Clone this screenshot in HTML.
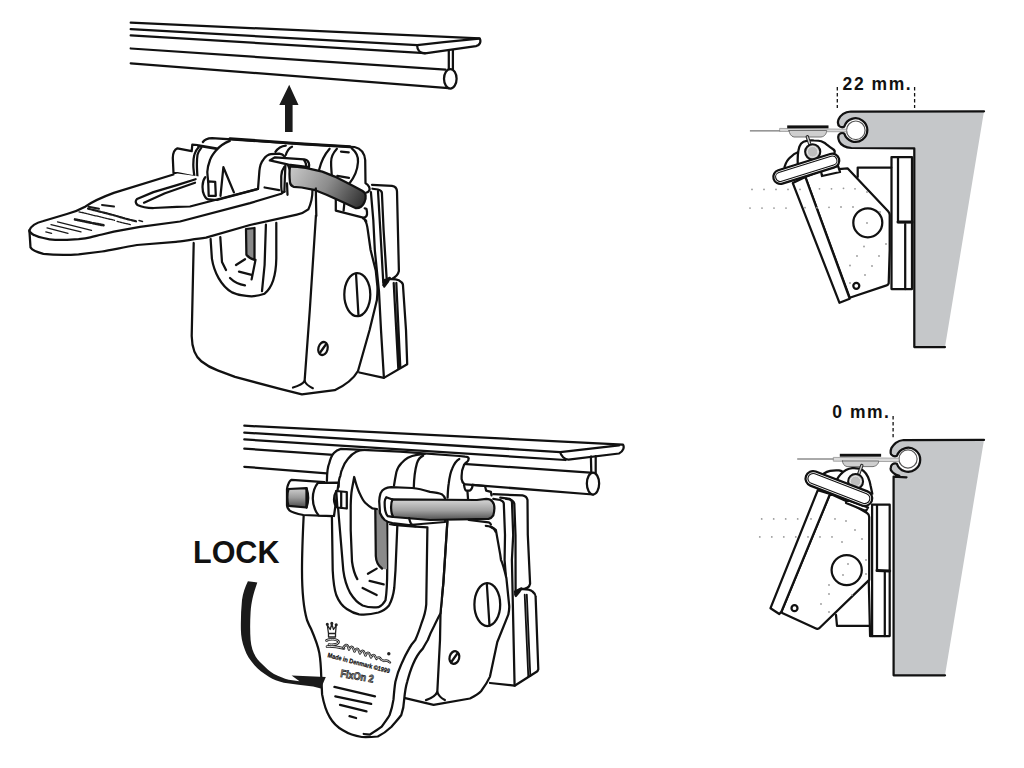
<!DOCTYPE html>
<html><head><meta charset="utf-8"><style>
html,body{margin:0;padding:0;background:#fff;width:1024px;height:768px;overflow:hidden}
svg{display:block}
</style></head><body>
<svg width="1024" height="768" viewBox="0 0 1024 768">
<defs>
<linearGradient id="rodg" gradientUnits="userSpaceOnUse" x1="292" y1="168" x2="360" y2="207">
<stop offset="0" stop-color="#c6c6c6"/><stop offset="0.5" stop-color="#8c8c8c"/><stop offset="1" stop-color="#333333"/>
</linearGradient>
<linearGradient id="grodL" x1="0" y1="0" x2="0" y2="1"><stop offset="0" stop-color="#cfcfcf"/><stop offset="0.5" stop-color="#9a9a9a"/><stop offset="1" stop-color="#4a4a4a"/></linearGradient>
<linearGradient id="grodR" x1="0" y1="0" x2="0" y2="1"><stop offset="0" stop-color="#d8d8d8"/><stop offset="0.55" stop-color="#a0a0a0"/><stop offset="1" stop-color="#505050"/></linearGradient>
</defs>
<g fill="none" stroke="#111" stroke-width="2.25" stroke-linecap="round" stroke-linejoin="round">
<!-- TOP RAIL -->
<path d="M130.7,22.7 L479.7,38.3 C481.5,42 479.5,45.5 476,46.2 L425,53.4 C419.5,53 417,49.5 417.2,45.2"/>
<path d="M130.7,29.1 L417.2,45.2 L443.9,42.1 L479,38.6"/>
<path d="M130.7,35.4 L425,53.2"/>
<path d="M130.7,48.5 L445.5,69.6"/>
<path d="M130.7,63.3 L448.4,88.1"/>
<path d="M448.8,50.5 L448.8,69.5 M452.9,50 L452.9,69.5"/>
<ellipse cx="450.3" cy="78.8" rx="6.3" ry="9.8" fill="#fff"/>
</g>
<path d="M289.2,84.7 L298.5,105 L292.6,105 L292.6,132.1 L285,132.1 L285,105 L279.3,105 Z" fill="#1a1a1a"/>

<!-- TOP-LEFT DEVICE -->
<g fill="none" stroke="#111" stroke-width="2.25" stroke-linecap="round" stroke-linejoin="round">
<!-- back plates -->
<path d="M372,184.8 L392,185.8 Q396.8,186.5 397,191.5 L398.9,271 Q398,276 391,279.5 L383.3,285" fill="#fff"/>
<path d="M389.4,279.2 C393,279 397,279.5 398.75,280.2 C401,281.5 402.5,283 402.9,284.4 L406,330 L407.2,364.3 L383.9,377.9 L359.3,372.5 L378,300 Z" fill="#fff" stroke="none"/>
<path d="M389.4,279.2 C393,279 397,279.5 398.75,280.2 C401,281.5 402.5,283 402.9,284.4 L406,330 L407.2,364.3 L383.9,377.9 L359.3,372.5"/>
<path d="M383.6,280.5 L389.8,277.8 L388,281.5 L384.2,286.5 Z" fill="#111"/>
<path d="M393.7,283 L398.3,368.4 M396.3,283 L400.3,367.5"/>
<path d="M370.9,192.1 L373.3,220 L374.8,250 L379,291.7 L381,330 L383.9,377.6"/>
<path d="M378,191 L380.3,230 L383.3,283"/>
<path d="M372.5,188.75 L378,189.5 C380.5,190 381.9,191.5 381.9,193 L383.6,230 L386.6,277.7"/>
<!-- body -->
<path d="M193.7,243 L191.7,336 C192,350 196,357 201.3,361.25 C206,365 211,368 217.6,370.4 L235,376.9 L280,388.9 L301.9,394.3 L334.7,390.2 C348,384 354,378 358,371 L369.6,330 L377,300 L377.4,286.5 L370.6,250 L365,220.4 L316,210 Z" fill="#fff" stroke="none"/>
<path d="M193.7,243 L191.7,336 C192,350 196,357 201.3,361.25 C206,365 211,368 217.6,370.4 L235,376.9 L280,388.9 L301.9,394.3 L334.7,390.2 C348,384 354,378 358,371 L369.6,330 L376.9,300 C377.5,294 377.6,290 377.4,286.5 L375.8,270.8 L370.6,250 L367.7,229.5 C367,224 366.5,222 365,220.4"/>
<path d="M316,189 L316.3,210 L309.8,310 L304.6,381"/>
<path d="M293,387.5 Q302,385 304.6,381 Q306,385 312.8,388.2"/>
<ellipse cx="357.3" cy="294.6" rx="13" ry="21.5"/>
<path d="M356,273.5 L358.5,316"/>
<ellipse cx="323" cy="348.5" rx="4.6" ry="6.6" transform="rotate(15 323 348.5)"/>
<path d="M320.5,352 L325.5,345"/>

<!-- head back piece -->
<path d="M202.9,142 C205,139 207,138.3 212,138.2 L300,143.8 L354.5,147 C361,148.5 364.5,153 365.2,160 L365.5,183.3 C369,185 370,188 369.4,190.3 L366,193 L360,210 L316,215 L205,205 Z" fill="#fff" stroke="none"/>
<path d="M202.9,142 C205,139 207,138.3 212,138.2 L300,143.8 L354.5,147 C361,148.5 364.5,153 365.2,160 L365.5,183.3 C369,185 370,188.5 369.4,190.3 C368.5,192 367.5,192.7 366.25,192.7"/>
<path d="M230,138.6 L300,143.8 L350,146.8" stroke-width="2.9"/>
<!-- loop -->
<path d="M329.6,148.75 C325,154 321,162 319.2,169.6"/>
<path d="M336.9,148.75 C333,153 331,158 331.1,162 C331,167 331.5,171 331.7,174.5"/>
<path d="M351.6,148.2 C356,152 358.5,157 358,162 C357.5,170 354,178 349,184"/>
<path d="M341,151.7 L348.7,152.3 M337.3,175.9 L349,177.8"/>
<!-- small tab below rod -->
<path d="M335.8,199.7 L335.8,210.6 L363.1,217.7 C366,217.5 367.5,216 367,212 L366.5,209 C366,208.5 365,208.3 364.7,208.3" fill="#fff"/>
<path d="M344.4,202.8 L343.6,210.6"/>
<path d="M363.1,218.4 C365,219 366.5,221 366.25,221.6"/>
<!-- left collar -->
<path d="M201.4,147.6 C199.5,150 198,152.5 197.5,154.8 C197,158 196.9,161 196.9,164.5 C196.9,169 197.2,173 197.5,177.5"/>
<path d="M198.8,145.6 L216.4,148.6" stroke-width="2.6"/>
<!-- hub -->
<path d="M229.8,140.9 C223,143.5 219,147 216,150.5 C213,154 211,157 210,160 C208.5,164 207.5,168 207.3,172 L207.6,176 L208.2,182 L258,190 L259,150 Z" fill="#fff" stroke="none"/>
<path d="M229.8,140.9 C223,143.5 219,147 216,150.5 C213,154 211,157 210,160 C208.5,164 207.5,168 207.3,172 L207.6,176 L208.2,181.9"/>
<path d="M220.5,195.9 L223.4,167.2 L233.9,192.4"/>
<!-- left knuckle block -->
<path d="M173.5,173 L172.8,158 C172.9,153 174.5,149.5 177.4,148.3 L191.7,151.2 L192.3,144.6 L197.5,145 L198.8,147 C196,150 194.8,152.5 194.3,154.8 C193.5,158 193.3,161 193.3,164.5 C193.3,168 193.8,172 194.3,175.6 L192.3,176.2 L177.4,173 Z" fill="#fff"/>
<!-- right collar arcs top -->
<path d="M275.4,151.9 C278,148 281,146 285.8,145.6"/>
<path d="M285.8,155 C287,151 289,148 292,146.7"/>
<!-- handle plate -->
<path d="M29.4,230.4 C31,226 37,222.5 43.4,221 L66.9,214 C74,212 80,209.5 85.6,206.4 C92,202 100,198 113.8,192.9 L173.4,174.5 L177.5,173.4 L193.9,175.7 L205.2,177.2 C202,181 201.8,190 204,194.7 C205.5,198 207,199.4 208.7,199.4 L217,200 L258,189 L259.4,170.8 C260,165 262,161 263.5,159.4 C266,156 268,154.5 270.8,154.2 L279.2,153.6 C282,154 283.5,155 284.4,156.3 C286,158 287,161 287,162.5 L290,170 L312.5,189.6 C312.5,200 310,206 308.3,209.4 C305,212 300,214 296.9,214.6 L250,225 L206,237.7 C195,239 180,241.6 176,241.8 L137,245 C120,248 110,250.5 102,251.5 L78.6,254.4 C65,255.3 55,255.2 43.4,253.8 C36,252 32,250 30.5,247.4 Z" fill="#fff" stroke="none"/>
<path d="M29.4,230.4 C31,226 37,222.5 43.4,221 L66.9,214 C74,212 80,209.5 85.6,206.4 C92,202 100,198 113.8,192.9 L173.4,174.5"/>
<path d="M205.2,177.2 C202,181 201.8,190 204,194.7 C205.5,198 207,199.4 208.7,199.4 L217,200 L258,189 L259.4,170.8 C260,165 262,161 263.5,159.4 C266,156 268,154.5 270.8,154.2 L279.2,153.6 C282,154 283.5,155 284.4,156.3 C286,158 287,161 287,162.5 L290,170 L312.5,189.6 C312.5,200 310,206 308.3,209.4 C305,212 300,214 296.9,214.6 L250,225 L206,237.7 C195,239 180,241.6 176,241.8 L137,245 C120,248 110,250.5 102,251.5 L78.6,254.4 C65,255.3 55,255.2 43.4,253.8 C36,252 32,250 30.5,247.4 L29.4,230.4"/>
<!-- tip front edge -->
<path d="M29.6,231.6 C31,233 32.5,234.5 34.1,235.1 C37,236.5 40,237.5 43.4,238 C48,239.3 52,239.8 55.2,239.8 L66.9,239.8 L78.6,239.2 C85,238.6 88,238 90.3,237.4 C95,236.3 98,235.4 102,234.5 L113.8,231.6 L140,226.9 L180,221.5 L250,203.1 L281.25,193.75 C283,192.5 284,192 284.4,191.7"/>
<!-- slot -->
<path d="M195.6,179.2 L176.9,185.1 L153.4,192.1 L137,199 C135,201 135.5,203.5 137.5,205 C141,206.8 147,208 153.4,208 L176.9,206.8 L190,206.5 L258,188.9"/>
<path d="M195,182.7 L165,193.3 L144,202.7"/>
<!-- right knuckle -->
<path d="M264.6,187.5 L279.2,190.1"/>
<path d="M284.4,166.7 C282,170 281.25,173 281.25,176 L281.25,186.5 C281.3,189 281.5,191 282,192"/>
<path d="M285.4,165.6 C285,175 284.5,185 284.4,191.7"/>
<path d="M287,183.3 L287.5,194.8"/>
<!-- knob on left -->
<path d="M208.2,181.3 L215.2,181.9 L215.8,195.9 L208.7,195.9 Z"/>
<!-- flat bar -->
<path d="M269.8,160.4 L275,157.3 L304.2,159.4 C306,159.6 308,161 308.8,163 C309.4,165 309.4,166 309,167 L288.5,164.6 Z" fill="#fff"/>
<path d="M304.2,160.4 C305.5,162 306.2,164 306.25,166"/>
<!-- rod -->
<path d="M290,166.6 C293,166.3 298,166.8 305.7,167.9 L322.3,171.6 L334.8,176.6 L351.4,184.9 L362.2,190.7 C364.5,192 365.5,193.5 365.6,195.5 C365.8,198 365.5,200 364.7,201.5 C363.8,203.8 362.8,205.5 361.3,206.5 C359.5,207.8 357.5,208.3 355.5,208.1 L343.1,202.3 L326.5,194.8 L314,189.8 L301.6,187.5 L293.5,186.8 C291.5,186 290.3,184.5 290,182.5 C289.3,176 289.3,171 290,166.6 Z" fill="url(#rodg)"/>

<path d="M315.8,188.5 L316.3,216"/>
<!-- top handle text -->
<g fill="none" stroke="#1a1a1a" stroke-linecap="round">
<path d="M45.8,231.8 L51.6,233.4 M47,227.8 L68,233.4 M51,224.6 L81,231.8 M57.5,221.9 L91.5,230.4" stroke-width="1.3"/>
<path d="M75,219.4 L91,222.8 M93,223.2 L103.5,225.2" stroke-width="2.6" stroke-dasharray="1.6,0.9"/>
<path d="M79,211.8 L114.5,220.3 M117.1,221.4 L130.3,224.6" stroke-width="1.3" stroke-dasharray="2,1"/>
<path d="M88,208.6 L113,215 L125,218.5 L136,221.3" stroke-width="2.2" stroke-dasharray="2.5,1.2"/>
<path d="M88.5,206.8 L99,208.8 M102,205 L114,206.6" stroke-width="2"/>
<path d="M139,220.5 L142.5,221.4" stroke-width="1.5"/>
</g>
<!-- bodyslot -->
<path d="M210.6,239 L211.9,258.6 C214,272 221,286 232,292.4 C240,296 251,296.3 251.6,296.3 C258,296 264.6,293.7 264.6,293.7 C272,288 276,276 276.3,258.6 L276.3,222.8"/>
<path d="M265.9,224.7 L264.6,265 L262,291.1"/>
<path d="M220.3,237.1 L222,262 L226,270"/>
<path d="M230,278 Q236,284 245,285.3"/>
<path d="M246,229 L254.5,228 L254.5,259.9 Q249,258 246.4,254.7 Z" fill="#8a8a8a"/>
<path d="M236,265 L245,259.2 M239,271.6 L251.6,274.8 M251.6,279.4 L255.5,259.9"/>
</g>
<!-- BOTTOM RAIL -->
<g fill="none" stroke="#111" stroke-width="2.25" stroke-linecap="round" stroke-linejoin="round">
<path d="M244.3,425.7 L623,444.6 C624.5,447 623.5,451.5 619,453.5 L568.4,459.7 C564.5,459.5 561,456 560.2,452.1 L619,445.3"/>
<path d="M244.3,432.6 L560.2,452.1"/>
<path d="M244.3,439.4 L565.6,460"/>
<path d="M244.3,448.6 L590.2,472.6"/>
<path d="M244.3,466.8 L593,494.5"/>
<path d="M590.9,456.5 L591.3,473 M595.7,456.2 L595.7,473"/>
<ellipse cx="593" cy="483.6" rx="6.15" ry="10.9" fill="#fff"/>
</g>
<!-- BOTTOM DEVICE -->
<g fill="none" stroke="#111" stroke-width="2.25" stroke-linecap="round" stroke-linejoin="round">
<!-- back plates -->
<path d="M493.3,494.2 L522.5,495.4 C525.5,496 527,497.5 527.5,500 L527.8,535 L530.1,583.7 C529.5,587 527,589 521,589.2 C518.5,590.5 516.5,592.5 515.6,594.6 L505,600 L495,500 Z" fill="#fff" stroke="none"/>
<path d="M493.3,494.2 L522.5,495.4 C525.5,496 527,497.5 527.5,500 L527.8,535 L530.1,583.7 C529.5,587 527,589 521,589.2 C518.5,590.5 516.5,592.5 515.6,594.6"/>
<path d="M521,589.2 C526,589 530,589.2 532.5,591.5 C535,593.5 535.6,595 535.6,596.4 L538.3,669.3 L537.4,671.2 L514.6,685.7 L490,683 L509,610 L515.6,594.6 Z" fill="#fff" stroke="none"/>
<path d="M521,589.2 C526,589 530,589.2 532.5,591.5 C535,593.5 535.6,595 535.6,596.4 L538.3,669.3 L537.4,671.2 L514.6,685.7 L490,683"/>
<path d="M515,591.5 L521.5,588.3 L519.5,591.5 L515.8,596 Z" fill="#111"/>
<path d="M493.3,498.9 L500.3,500 C502.5,501 503.8,502.5 503.8,503.6 L505,535 L504.6,560 L506,578"/>
<path d="M500.3,497.7 L509.7,498.9 C511.5,500 512,501 512,502.4 L513.2,535 L511.9,560 L514.6,685.7"/>
<path d="M506.1,498.9 C510,499 513.5,500.5 514.3,503.6 L515.5,535 L515.6,594.6"/>
<path d="M524.7,594.6 L528.3,676.6 M526.8,594.6 L530.3,676" stroke-width="1.8"/>
<!-- body -->
<path d="M447.4,521 L437.3,692 L405.2,698.2 L433.6,704.8 L470,698.5 C475,696 478.5,694 481,691.2 C485,686 488,681 490,676.6 L497.3,642 L508.3,614.7 C509.3,610 509.3,607 509.2,605.6 L506.4,578.2 C504,568 502.5,563 501,560 L500.2,554.4 L495.9,530.1 C493,527 490,526 485.8,525.8 Z" fill="#fff" stroke="none"/>
<path d="M405.2,698.2 L433.6,704.8 L470,698.5 C475,696 478.5,694 481,691.2 C485,686 488,681 490,676.6 L497.3,642 L508.3,614.7 C509.3,610 509.3,607 509.2,605.6 L506.4,578.2 C504,568 502.5,563 501,560 L500.2,554.4 L495.9,530.1 C493,527 490,526 485.8,525.8"/>
<path d="M447.4,521 L443.4,582.5 L440.5,613 L440,640 L437.3,692"/>
<path d="M426,700.1 Q435,697 437.3,692 Q439,697 444.9,700.1"/>
<ellipse cx="487.3" cy="604.5" rx="12.9" ry="21.5"/>
<path d="M486.8,583.5 L489.5,625.5"/>
<ellipse cx="454.4" cy="657.5" rx="4.8" ry="6.4" transform="rotate(15 454.4 657.5)"/>
<path d="M452,661 L457,654"/>
<!-- head back piece -->
<path d="M326.9,481 C327,473 328,466 329.2,463.4 C330.5,458 332,455 333.9,452.9 C336,450.5 338,449.5 340.9,448.8 L400,451.7 L459.3,456 L465.1,456.7 C467,456.8 468.5,457.5 468.7,458.5 C468.5,460 468,461 467.5,461.4 C465.5,462.5 464.5,464 464,464.9 C462.5,468 461.6,472 461.6,476 L461.6,479 C462,481.5 463,483 464,483.7 L464,500 L330,500 Z" fill="#fff" stroke="none"/>
<path d="M326.9,481 C327,473 328,466 329.2,463.4 C330.5,458 332,455 333.9,452.9 C336,450.5 338,449.5 340.9,448.8 L400,451.7 L459.3,456 L465.1,456.7 C467,456.8 468.5,457.5 468.7,458.5 C468.5,460 468,461 467.5,461.4 C465.5,462.5 464.5,464 464,464.9 C462.5,468 461.6,472 461.6,476 L461.6,479 C462,481.5 463,483 464,483.7"/>
<path d="M464,484.8 C464.5,488 465.5,490.5 466.3,490.7 L469.8,490.7 C471.5,489.5 472.5,487 472.8,484.8"/>
<path d="M467.5,491.9 L468.1,500"/>
<path d="M472.8,484.8 L485,486 L486.2,490.7 L490.9,491.9 L491.5,495.4"/>
<path d="M447.6,497.7 C447.8,492 448,487.5 448.7,483.7 C449.5,477 450.5,472 452.3,468.4 C454.5,463 456.5,460.5 459.3,459"/>
<!-- hub arcs -->
<path d="M338.6,487 C338.6,482 339.2,478 340.3,476 C340.8,472.5 341,471 342.1,469.3 C344,464 346,461 348,458.75 C351,455 353.5,453 356.2,451.7 C359,450.5 361.5,450.2 364.4,450"/>
<path d="M394,485.6 C395,479 396,474 396.4,472 C398,467 399.5,465 401.25,463.4 C405,458.5 410,455.8 416.9,454.8 L424.7,454"/>
<path d="M413.75,488.4 C414,478 415,470 416.9,463.4 C418,459.5 420,457 423.1,455.6"/>
</g>
<g fill="none" stroke="#111" stroke-width="2.25" stroke-linecap="round" stroke-linejoin="round">
<!-- handle -->
<path d="M303.7,515 C302.5,540 302,560 302,570 C302,590 303.5,608 307,620 C309,625 310,627 310.8,628.3 C315,638 318,646 319.3,652.9 C320.5,660 321,668 321.2,675.6 L322.1,694.4 C324,705 326,711 329.7,717.1 C333,723 338,727.5 342.9,730.3 C348,733.5 355,736 361.8,737 C367,737.2 372,737 377.8,736.5 C383,734 388,730 391.5,726.7 C395,722.5 398.5,719 401.3,715 C403,710 404,704 404.2,699.4 C404.8,693 405.5,687 407.2,681.8 C409,675 410.5,670 413,664.2 C416,657 419.5,652 422.8,648.6 C424.5,645.5 426,643 427.8,640 C430,634 432,630 434,626.25 C436.5,621 438.5,617 440.3,613.75 L441,600 L427.4,527.3 L390,524.6 L330,512 Z" fill="#fff" stroke="none"/>
<path d="M303.7,515 C302.5,540 302,560 302,570 C302,590 303.5,608 307,620 C309,625 310,627 310.8,628.3 C315,638 318,646 319.3,652.9 C320.5,660 321,668 321.2,675.6 L322.1,694.4 C324,705 326,711 329.7,717.1 C333,723 338,727.5 342.9,730.3 C348,733.5 355,736 361.8,737 C367,737.2 372,737 377.8,736.5 C383,734 388,730 391.5,726.7 C395,722.5 398.5,719 401.3,715 C403,710 404,704 404.2,699.4 C404.8,693 405.5,687 407.2,681.8 C409,675 410.5,670 413,664.2 C416,657 419.5,652 422.8,648.6 C424.5,645.5 426,643 427.8,640 C430,634 432,630 434,626.25 C436.5,621 438.5,617 440.3,613.75"/>
<path d="M363.7,734 C366,734.3 368,734.5 370,734.5 C374,732 378,729.5 381.7,726.7 C385,722 388,718 389.6,715 C391.5,710 392.8,704 393.5,699.4 C394,693 394.5,687 395.4,681.8 C397,675 399,669 401.3,664.2 C404,658 406.5,653 409.1,648.6 C411,645 413.5,642 415.3,640 C418,634 420,628 421.6,623 C424,617 425.8,610 426.25,604.4 L427.4,527.3 L411.9,526.4 L390,524.6"/>
<path d="M331.9,515.8 L332.7,570.3 C333.3,582 334.5,590 336.25,595 C339,602 342,606 346.8,609 C350.5,611.5 354.5,613.5 359.1,614.3 C366,615 372,614.2 378.4,612.5 C383,611 386.5,608.5 389,605.5 C392,600 393.5,594 394.25,588 L395.5,570 L397.3,526.4" fill="#fff"/>
<path d="M338,507 L343.3,570.3 C344.5,580 347,587 350.3,593.2 C353.5,598.5 357.5,603 362.6,605.5 C368,607.5 373,607.8 378.4,607.2 C382,605.5 384,603 385.5,600.2 C386.8,592 387.2,582 387.2,570.3 L387.2,517.6"/>
<path d="M375.3,509.5 L386,510 L387,569 C384,570 380,568 377.5,565 C376.3,562 375.8,560 375.8,556 Z" fill="#8a8a8a" stroke="none"/>
<path d="M375.3,509.5 L375.8,556 C376,561 377.5,565 382,568.5"/>
<path d="M367.9,573.8 L376.7,568.6 M369.6,580.9 L383.7,584.4 M362.6,587.9 L376.7,595"/>
<!-- lines on handle -->
<path d="M334.4,686.9 L375,696.3 M335.3,696.3 L371.2,703.9 M340,704.8 L366.5,711.4 M349.5,716.2 L356.1,718"/>
<!-- Λ -->
<path d="M357.3,579.1 C355,575 353,569 352,561.5 L350.7,530 L350.7,505.2 C350.9,498 351.3,493 351.9,489.5 L354.2,477 C356,484 358,490 359.7,493.4 C361.5,497.5 363,500.5 365.2,502.8 C367.5,505 370,507 372.2,508.3 L376.9,509"/>
<!-- left collar & rod -->
<path d="M291.7,479.8 L324.5,482.2 L331.6,516.2 L303.4,515 C296,513.5 291.5,512 289.4,510.3 C287.5,508 287,506 287,505.6 L287,489.2 C287.3,486.5 287.8,485.3 288.2,484.5 C289,482 290,480.5 291.7,479.8 Z" fill="#fff"/>
<path d="M288.5,489 L306.5,488.2 L306.5,507.5 L288.5,505.8 C287,502 287,493 288.5,489 Z" fill="url(#grodL)"/>
<path d="M306.5,488.2 C308.5,494 308.5,502 306.5,507.5"/>
<path d="M318,482.8 C314.5,487 312.8,493 312.8,498.6 C312.8,505 315,511 318.7,515.5 L334,516 L338.6,482.6 Z" fill="#fff"/>
<path d="M336.25,491 L346.8,492 L346.8,508.5 L337.4,507.5 Z" fill="#fff"/>
<path d="M336.3,491 C334.5,494 334,497 334,499.5 C334,503 335,505.5 337.4,507.5"/>
<path d="M341.2,492 L341.2,507.5"/>
<!-- right collar & rod -->
<path d="M379.2,501.25 C379.5,497 380,495 380.5,493.4 C381.8,490.5 383,489.5 384.7,488.75 C386.5,487.8 388.5,487.3 391,487.2 L412.2,488 C418,488.5 424,490 430,491.9 C436,492.5 440,493.5 441.7,494.2 C443.5,495.5 444.5,497 445.2,498.9 L445,522 L409,525 L392.5,523.1 C389,522.5 386.5,521.5 384.7,520 C382.5,518 381,515.5 380,513 Z" fill="#fff"/>
<path d="M391.9,499.4 L476.9,500 L486.2,498.9 C489,499 491,499.8 492.1,501.2 C493.8,503 494.4,505.5 494.4,508.3 C494.3,511 493.8,513.5 493.3,515.3 C492,517.3 490.5,518.4 488.6,518.8 L430,520 L393.3,517 C390.5,513 390.5,503 392.5,499.5 Z" fill="url(#grodR)"/>
<path d="M386.25,497.3 C385,499 384.5,501 384.7,502.8 C384.6,506 384.8,509 385.5,511.4 C386,513.5 387,515.3 387.8,516.1 L392.5,516.9 M386.25,497.3 L392.5,499.5"/>
<path d="M409.1,518.2 C409.8,521 410.5,523 411,523.7 C412.5,525.5 414,526.3 415.5,526.4"/>
<path d="M468.7,520 L488.6,522.3 C490,523 490.8,523.8 490.9,524.7"/>
<path d="M490.9,527 C493,528 495,529.5 495.6,531.7"/>
</g>
<path d="M447.4,521 L443.4,582.5 L440.5,613" fill="none" stroke="#111" stroke-width="2.25" stroke-linecap="round"/>

<!-- handle text -->
<g fill="none" stroke="#222" stroke-width="1.3" stroke-linecap="round" stroke-linejoin="round">
<path d="M328.5,633.5 L327.3,625 L330.2,629.5 L331.8,624 L333.5,629.5 L336.2,625.5 L335.5,633.5 Z M328.5,633.5 L335.5,633.5 L335.5,637 L328.5,637 Z"/>
<circle cx="327.3" cy="624.3" r="0.9" fill="#222"/><circle cx="331.8" cy="623.4" r="0.9" fill="#222"/><circle cx="336.2" cy="624.8" r="0.9" fill="#222"/>
</g>
<g fill="none" stroke="#222" stroke-linecap="round" stroke-linejoin="round">
<path d="M326.5,640.5 C330,638.5 337,639 338.5,641.5 C339,644 334,645.5 329,644.5 M327,646.5 C332,646 338,647 344,648.5" stroke-width="2.6"/>
<path d="M326.5,640.5 C330,638.5 337,639 338.5,641.5 C339,644 334,645.5 329,644.5 M327,646.5 C332,646 338,647 344,648.5" stroke="#eee" stroke-width="0.9"/>
<path d="M343,648 C345,644.5 347,644 348,646.5 L349,649.5 C350.5,646 352.5,646 353.5,649 L354.5,651.5 C356,648 358,648 359,651 L360,653.5 C361.5,650 363.5,650 364.5,653 L365.5,655.5 C367,652 369,652 370,655 L371,657.5 C372.5,654 374.5,654.5 375.5,657 L376.5,659 C378,656.5 380,657 381,659.5 L384,661 C386,660 388,660.5 390,662.5" stroke-width="2.4"/>
<path d="M343,648 C345,644.5 347,644 348,646.5 L349,649.5 C350.5,646 352.5,646 353.5,649 L354.5,651.5 C356,648 358,648 359,651 L360,653.5 C361.5,650 363.5,650 364.5,653 L365.5,655.5 C367,652 369,652 370,655 L371,657.5 C372.5,654 374.5,654.5 375.5,657 L376.5,659 C378,656.5 380,657 381,659.5 L384,661 C386,660 388,660.5 390,662.5" stroke="#eee" stroke-width="0.8"/>
</g>
<circle cx="388.8" cy="653.8" r="1.7" fill="#222"/>
<text x="0" y="0" transform="translate(327.3,657) rotate(14.8)" font-family="Liberation Sans, sans-serif" font-weight="bold" font-size="6.4" textLength="64" lengthAdjust="spacingAndGlyphs" fill="#111" stroke="#111" stroke-width="0.25">Made in Denmark  ©1999</text>
<text x="0" y="0" transform="translate(340,676.8) rotate(10)" font-family="Liberation Sans, sans-serif" font-weight="bold" font-size="10.5" textLength="33.5" lengthAdjust="spacingAndGlyphs" fill="#a8a8a8" stroke="#2a2a2a" stroke-width="0.75">FixOn 2</text>
<!-- LOCK -->
<text x="193" y="562.5" font-family="Liberation Sans, sans-serif" font-weight="bold" font-size="30.5" fill="#111">LOCK</text>
<!-- curved arrow -->
<path d="M247.9,581.2 L257.3,582.4 C254,592 251.5,600 250.6,612 C250,622 250,632 250.6,640 C251.5,650 255,658 262.3,664.2 C266,668 270,671.5 274,674 C279,676.5 284,678.5 288.7,679.8 L299.5,681.3 L291.6,675.4 L325.8,676.9 L320.9,688.6 L313.1,686.6 L298.5,684.7 L283.8,682.7 C278,681 273,679.5 269.2,676.9 C263,673 258,669.5 254.5,665.2 C250,660 246.5,655 244.8,649.5 C242,642 241,636 240.9,630 C240.7,620 241,610 242,600 C243,593 245,587 247.9,581.2 Z" fill="#1a1a1a"/>

<!-- RIGHT PANEL A -->
<g fill="none" stroke="#111" stroke-width="2.25" stroke-linecap="round" stroke-linejoin="round">
<path d="M850.8,111.5 L984,111.3 L945,347 L914.3,347 L914.3,148.4 L851.5,148 C845,147.5 841,145 839.3,141.5 C837.8,138 838.2,134.8 840,133.6 L844.3,133.7 L844.3,126.5 L840,126.6 C838.3,125.5 837.5,122.5 838.5,119.5 C840.5,115 845,112 850.8,111.5 Z" fill="#c5c7c9" stroke="none"/>
<circle cx="855.6" cy="130.1" r="11.5" fill="#fff" stroke="none"/>
<circle cx="855.8" cy="130.3" r="9.3" fill="#fff" stroke="#555" stroke-width="1.2"/>
<path d="M984,111.3 L850.8,111.5 C845,112 840.5,115 838.5,119.5 C837.5,122.5 838.3,125.5 840,126.6 C841.5,127.5 843,127.4 844.3,126.5 A11.8,11.8 0 1 1 844.3,133.7 C843,132.8 841.5,132.7 840,133.6 C838.2,134.8 837.8,138 839.3,141.5 C841,145 845,147.5 851.5,148 L914.3,148.4 L914.3,347 L945,347"/>
<path d="M837.3,87 L837.3,108 M914.6,87 L914.6,108" stroke-width="1.3" stroke-dasharray="3.5,2.5" stroke-linecap="butt"/>
<!-- cord & glider -->
<path d="M750.3,130.9 L780,130.9" stroke="#555" stroke-width="1"/>
<path d="M780,128.4 L846.5,129.2 L846.5,131.8 L780,131.4 Z" fill="#dadada" stroke="#888" stroke-width="0.7"/>
<path d="M789,130.5 L826.7,130.5 C826.5,133.5 825,136.5 821,137 L794,137 C791,136.5 789.3,133.5 789,130.5 Z" fill="#cfcfcf" stroke="#666" stroke-width="0.9"/>
<rect x="787.2" y="125.4" width="41.3" height="2.9" fill="#111" stroke="none"/>
<!-- knob behind ball -->
<path d="M784.5,167 C786,162 788,159 790.8,156.9 C793,154.5 795.5,153 797.8,152.2"/>
<path d="M797.8,166 C797.4,158 798,151 799.4,146.7 C800.5,144 802,142.5 803.5,141.8 C807,140.6 811,140.3 814,140.5 C817,140.6 819.5,140.8 821.25,141.25 C824,142.3 826,143.6 827.5,145.2 C830,147.2 832,148.5 833.5,149.5 C834.5,150.3 835,151.5 834.5,153 L800,170 Z" fill="#fff" stroke="none"/>
<path d="M797.8,166 C797.4,158 798,151 799.4,146.7 C800.5,144 802,142.5 803.5,141.8 C807,140.6 811,140.3 814,140.5 C817,140.6 819.5,140.8 821.25,141.25 C824,142.3 826,143.6 827.5,145.2 C830,147.2 832,148.5 833.5,149.5 C834.5,150.3 835,151.5 834.5,153"/>
<path d="M807.3,136.8 L810.8,147" stroke="#222" stroke-width="3.4"/>
<path d="M807.3,136.8 L810.8,147" stroke="#ccc" stroke-width="1.4"/>
<circle cx="812.7" cy="151.8" r="7.6" fill="#bdbdbd" stroke-width="2"/>
<circle cx="812.7" cy="151.8" r="5.4" stroke="#e8e8e8" stroke-width="1"/>
<!-- plates -->
<rect x="891.5" y="157" width="20.5" height="132" fill="#fff"/>
<path d="M898,157.5 L898,222 M898,222 L912,222" />
<path d="M898,222 L912,222" stroke-width="3"/>
<path d="M905.2,224 L905.2,289"/>
<!-- small block -->
<path d="M857.7,176.9 L857.7,167.5 L891.25,167.5" fill="#fff"/>
<!-- pivot body -->
<path d="M820.9,170.6 L847.5,168.3 L888.1,211.25 C889.2,212.5 889.7,213.5 889.7,215 L889.7,250 L888.7,283.3 C888.3,284.5 887.7,285 886.6,285.4 L849.7,297.7 L805.3,176.9 Z" fill="#fff"/>
<circle cx="867.8" cy="222.8" r="14.5"/>
<circle cx="856.3" cy="285.8" r="3"/>
<!-- arm -->
<path d="M792.8,183.1 L839.5,302.8 L849.7,298.7 L805.3,176.9 Z" fill="#fff"/>
<!-- small bar -->
<path d="M820.9,170.6 L838.1,166 L840,172 L822,176 Z" fill="#fff"/>
<!-- cross bar -->
<g transform="translate(806.3,168.8) rotate(-17.3)">
<rect x="-34.25" y="-7" width="68.5" height="14" rx="7" fill="#fff"/>
<rect x="-31.9" y="-4.6" width="63.8" height="9.2" rx="4.6" stroke-width="1.1"/>
</g>
</g>
<!-- dots A -->
<g fill="#999">
<circle cx="752" cy="189.4" r="0.9"/><circle cx="764" cy="189.4" r="0.9"/><circle cx="776" cy="189.4" r="0.9"/><circle cx="788" cy="189.4" r="0.9"/><circle cx="800" cy="189.4" r="0.9"/><circle cx="819.5" cy="188.8" r="0.9"/><circle cx="831.5" cy="188.8" r="0.9"/><circle cx="843.5" cy="188.3" r="0.9"/><circle cx="855" cy="188.8" r="0.9"/><circle cx="867" cy="192" r="0.9"/>
<circle cx="750" cy="208.1" r="0.9"/><circle cx="762" cy="208.1" r="0.9"/><circle cx="774" cy="208.1" r="0.9"/><circle cx="786" cy="208.1" r="0.9"/><circle cx="805" cy="207.7" r="0.9"/><circle cx="817" cy="207.7" r="0.9"/><circle cx="829" cy="207.3" r="0.9"/><circle cx="841" cy="207" r="0.9"/><circle cx="853" cy="207" r="0.9"/><circle cx="880" cy="212" r="0.9"/>
<circle cx="864" cy="246.5" r="0.9"/><circle cx="857" cy="256" r="0.9"/><circle cx="879" cy="256" r="0.9"/><circle cx="850" cy="265.5" r="0.9"/><circle cx="872" cy="266" r="0.9"/><circle cx="865" cy="275" r="0.9"/><circle cx="850" cy="283" r="0.9"/><circle cx="886" cy="244" r="0.9"/><circle cx="867" cy="223" r="0.9"/>
</g>
<text x="842.6" y="89.6" font-family="Liberation Sans, sans-serif" font-weight="bold" font-size="17.5" letter-spacing="1.55" fill="#111">22 mm.</text>

<!-- RIGHT PANEL B -->
<g fill="none" stroke="#111" stroke-width="2.25" stroke-linecap="round" stroke-linejoin="round">
<path d="M903.6,440 L984,439.9 L945,675.3 L893.6,675.3 L893.6,476.6 L899.3,475.8 C897,475 895.5,474.7 894.3,473.7 C891.5,471.5 890.3,469.5 890.7,468 C891,466 891.5,464.8 892.2,464.4 L897.2,463.7 L897.2,456 L892.9,455.8 C891.5,455 890.5,454 890.7,452.9 C890.5,450 891,449 891.5,447.9 C893,445.5 894.5,444 895.8,442.9 C898,441.3 900.5,440.3 903.6,440 Z" fill="#c5c7c9" stroke="none"/>
<circle cx="907.8" cy="458.7" r="11.6" fill="#fff" stroke="none"/>
<circle cx="908" cy="459" r="9.1" fill="#fff" stroke="#555" stroke-width="1.2"/>
<path d="M984,439.9 L903.6,440 C900.5,440.3 898,441.3 895.8,442.9 C894.5,444 893,445.5 891.5,447.9 C891,449 890.5,450 890.7,452.9 C890.5,454 891.5,455 892.9,455.8 C894.3,456.5 895.8,456.4 896.9,455.8 A12,12 0 1 1 896.9,463.8 C895.5,463.3 893.5,463.6 892.2,464.4 C891.5,464.8 891,466 890.7,468 C890.3,469.5 891.5,471.5 894.3,473.7 C895.5,474.7 897,475 899.3,475.8 M893.6,476.6 L906.5,477.3 M893.6,476.6 L893.6,675.3 L945,675.3"/>
<path d="M893.1,416.1 L893.1,437.2" stroke-width="1.3" stroke-dasharray="3.5,2.5" stroke-linecap="butt"/>
<path d="M797.6,459 L834,459" stroke="#555" stroke-width="1"/>
<path d="M833.7,457.4 L899,458.2 L899,461.6 L833.7,461.2 Z" fill="#dadada" stroke="#888" stroke-width="0.7"/>
<path d="M842.4,461 L878.8,461 C878.5,463.5 877,466 873,466.6 L847,466.6 C844,466 842.6,463.5 842.4,461 Z" fill="#cfcfcf" stroke="#666" stroke-width="0.9"/>
<rect x="839.8" y="453.8" width="41.3" height="2.9" fill="#111" stroke="none"/>
<!-- plates -->
<rect x="872.1" y="504.7" width="17.6" height="131.4" fill="#fff"/>
<path d="M877,505.6 L877,570.1"/>
<path d="M877,570.6 L889.7,571" stroke-width="3"/>
<path d="M884.8,572.5 L884.8,636.1"/>
<path d="M867.2,515.4 L870.1,636.1 L872.1,636.1"/>
<!-- small block -->
<path d="M836,615 L837,625.8 L869.2,625.8" fill="#fff"/>
<!-- knob behind -->
<path d="M824,473.5 C826,472 828,471.2 830.1,470.8 C833,470.3 836,470.2 839,470.4 C840.5,470.6 841.5,471 842.5,471.7"/>
<path d="M836.3,480.5 C838,477.5 839.3,475.7 840.7,474.3 C842.5,472.2 844,471 846,470 C848,469 850,468.4 852.1,468.2 C855,468 857,468.2 859,468.6 C861,469.2 862.3,469.8 863.5,470.8 C865.5,472.5 867,474.8 868,477 C869.3,480 870.2,483 870.6,485.75 L872.3,493.7 L840,492 Z" fill="#fff" stroke="none"/>
<path d="M836.3,480.5 C838,477.5 839.3,475.7 840.7,474.3 C842.5,472.2 844,471 846,470 C848,469 850,468.4 852.1,468.2 C855,468 857,468.2 859,468.6 C861,469.2 862.3,469.8 863.5,470.8 C865.5,472.5 867,474.8 868,477 C869.3,480 870.2,483 870.6,485.75 L872.3,493.7"/>
<path d="M861.8,465.5 L858.3,475.2" stroke="#222" stroke-width="3.4"/>
<path d="M861.8,465.5 L858.3,475.2" stroke="#ccc" stroke-width="1.4"/>
<circle cx="855.6" cy="481.4" r="7.5" fill="#bdbdbd" stroke-width="2"/>
<circle cx="855.6" cy="481.4" r="5.3" stroke="#e8e8e8" stroke-width="1"/>
<!-- pivot body -->
<path d="M847.7,501.7 L867,513 C868.5,514 869.2,515 869.2,517 L869.2,579.9 L820,627.5 C819,628.7 818,629.1 816.5,628.7 L782.2,613.1 L781.5,611.5 L830.1,493.8 Z" fill="#fff"/>
<circle cx="846.7" cy="570.1" r="15.1"/>
<circle cx="794.5" cy="608.2" r="3"/>
<!-- arm -->
<path d="M817.8,490.1 L770.5,608.2 L779.3,614 L781.5,611.5 L830.1,493.8 Z" fill="#fff"/>
<path d="M846.8,499.8 L868,507.5 L866,511 L846,503 Z" fill="#fff"/>
<g transform="translate(838.9,488.5) rotate(21)">
<rect x="-35.2" y="-7.5" width="70.4" height="15" rx="7.5" fill="#fff"/>
<rect x="-32.8" y="-5.1" width="65.6" height="10.2" rx="5.1" stroke-width="1.1"/>
</g>
</g>
<g fill="#999">
<circle cx="761.7" cy="518.9" r="0.9"/><circle cx="773.7" cy="518.9" r="0.9"/><circle cx="785.7" cy="518.9" r="0.9"/><circle cx="797.7" cy="518.9" r="0.9"/><circle cx="811" cy="518.9" r="0.9"/><circle cx="835" cy="518.9" r="0.9"/><circle cx="846" cy="521" r="0.9"/><circle cx="855" cy="530" r="0.9"/>
<circle cx="759.8" cy="536.9" r="0.9"/><circle cx="771.8" cy="536.9" r="0.9"/><circle cx="783.8" cy="536.9" r="0.9"/><circle cx="795.8" cy="536.9" r="0.9"/><circle cx="808" cy="536.9" r="0.9"/><circle cx="820" cy="536.9" r="0.9"/><circle cx="832" cy="536.9" r="0.9"/><circle cx="842" cy="542" r="0.9"/><circle cx="862" cy="539" r="0.9"/>
<circle cx="848" cy="564" r="0.9"/><circle cx="843" cy="575" r="0.9"/><circle cx="829" cy="585" r="0.9"/><circle cx="866" cy="560" r="0.9"/><circle cx="866" cy="574" r="0.9"/><circle cx="829" cy="594" r="0.9"/><circle cx="821" cy="604" r="0.9"/><circle cx="829" cy="612" r="0.9"/><circle cx="852" cy="595" r="0.9"/>
</g>
<text x="832.2" y="418.4" font-family="Liberation Sans, sans-serif" font-weight="bold" font-size="17.5" letter-spacing="1.55" fill="#111">0 mm.</text>

</svg>
</body></html>
